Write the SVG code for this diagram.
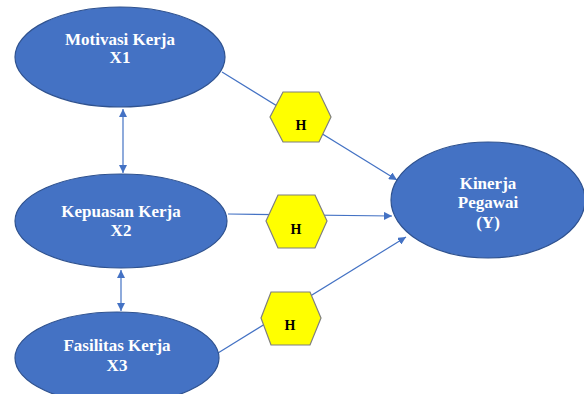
<svg xmlns="http://www.w3.org/2000/svg" width="584" height="394" viewBox="0 0 584 394">
<style>
.ell{fill:#4472C4;stroke:#2F528F;stroke-width:1.2}
.hex{fill:#FFFF00;stroke:#7F7F7F;stroke-width:1.2}
.lbl{font-family:"Liberation Serif","Times New Roman",serif;font-weight:bold;font-size:17px;fill:#FFFFFF;text-anchor:middle}
.h{font-family:"Liberation Serif","Times New Roman",serif;font-weight:bold;font-size:14px;fill:#000000;text-anchor:middle}
.con{stroke:#4472C4;stroke-width:1.2;fill:none}
</style>
<defs>
<marker id="ah" viewBox="0 0 10 10" refX="10" refY="5" markerWidth="8" markerHeight="8" markerUnits="userSpaceOnUse" orient="auto-start-reverse">
<path d="M0,0 L10,5 L0,10 z" fill="#4472C4"/>
</marker>
</defs>
<g id="connectors">
<line class="con" x1="222" y1="72" x2="397" y2="180" marker-end="url(#ah)"/>
<line class="con" x1="228" y1="214" x2="392" y2="216" marker-end="url(#ah)"/>
<line class="con" x1="218" y1="353" x2="406" y2="237" marker-end="url(#ah)"/>
<line class="con" x1="123" y1="109" x2="123" y2="173" marker-start="url(#ah)" marker-end="url(#ah)"/>
<line class="con" x1="121" y1="270" x2="121" y2="311" marker-start="url(#ah)" marker-end="url(#ah)"/>
</g>
<g id="x1">
<ellipse class="ell" cx="120" cy="57" rx="105" ry="50"/>
<text class="lbl" x="120" y="45">Motivasi Kerja</text>
<text class="lbl" x="120" y="63">X1</text>
</g>
<g id="x2">
<ellipse class="ell" cx="121" cy="221" rx="106" ry="47"/>
<text class="lbl" x="121" y="217">Kepuasan Kerja</text>
<text class="lbl" x="121" y="236">X2</text>
</g>
<g id="x3">
<ellipse class="ell" cx="117" cy="358" rx="102" ry="46"/>
<text class="lbl" x="117" y="351">Fasilitas Kerja</text>
<text class="lbl" x="117" y="371">X3</text>
</g>
<g id="y">
<ellipse class="ell" cx="488" cy="200" rx="97" ry="58"/>
<text class="lbl" x="488" y="189">Kinerja</text>
<text class="lbl" x="488" y="208">Pegawai</text>
<text class="lbl" x="488" y="228">(Y)</text>
</g>
<g id="h1">
<polygon class="hex" points="270,117 283,92 319,92 331,117 319,142 283,142"/>
<text class="h" x="301" y="130">H</text>
</g>
<g id="h2">
<polygon class="hex" points="266,221 278,195 315,195 327,221 315,248 278,248"/>
<text class="h" x="296" y="234">H</text>
</g>
<g id="h3">
<polygon class="hex" points="261,318 271,292 310,292 321,318 310,345 271,345"/>
<text class="h" x="290" y="330">H</text>
</g>
</svg>
